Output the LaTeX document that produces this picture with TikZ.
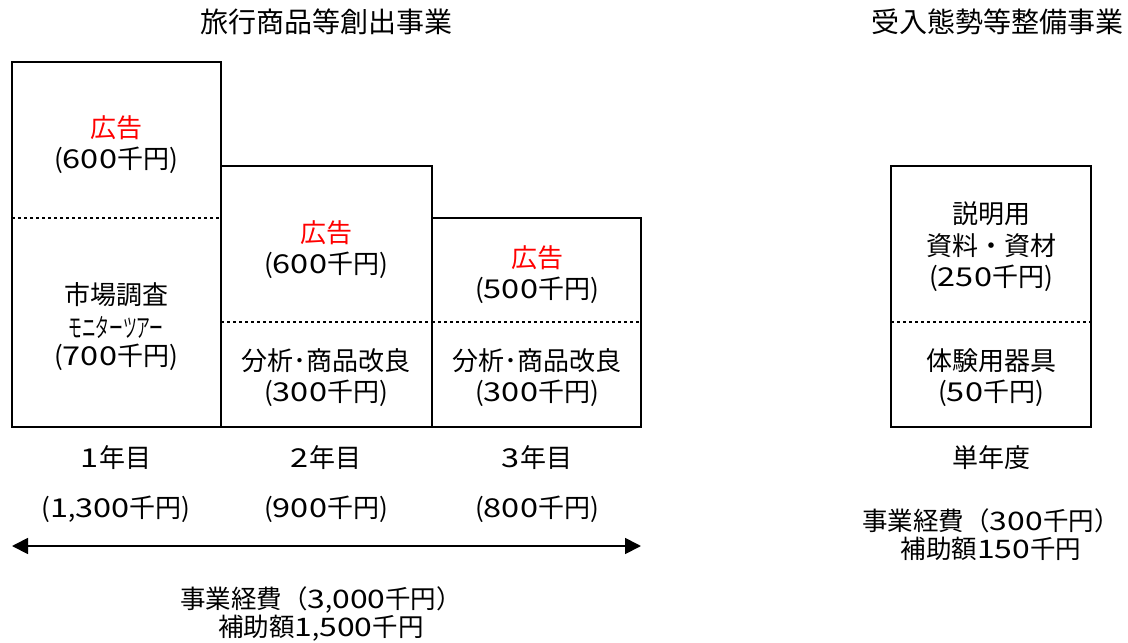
\documentclass[tikz,border=0pt]{standalone}
\usepackage{fontspec}
\setmainfont{Noto Sans CJK JP}
\newfontfamily\digitfont[FakeStretch=1.25]{Noto Sans CJK JP}
\newcommand\amt[1]{{\digitfont #1}}
\usetikzlibrary{arrows.meta,positioning}

\begin{document}
\begin{tikzpicture}[
    x=1pt, y=-1pt,
    box/.style={draw=black, line width=1.8pt},
    divider/.style={draw=black, line width=1.4pt, dash pattern=on 3pt off 3pt},
    label/.style={align=center, font=\fontsize{26}{31.5}\selectfont, inner sep=0pt},
    title/.style={align=center, font=\fontsize{28}{30}\selectfont, inner sep=0pt},
    total/.style={align=center, font=\fontsize{25.5}{28}\selectfont, inner sep=0pt},
    ad/.style={text=red},
    arrow/.style={{Triangle[length=16pt,width=16pt]}-{Triangle[length=16pt,width=16pt]}, line width=1.8pt},
]
\useasboundingbox (0,0) rectangle (1128,643);

% Titles
\node[title] (t1) at (326,22) {旅行商品等創出事業};
\node[title] (t2) at (997,22) {受入態勢等整備事業};

% Boxes
\draw[box] (12,62) rectangle (221,427);
\draw[box] (221,166) rectangle (432,427);
\draw[box] (432,218) rectangle (641,427);
\draw[box] (891,166) rectangle (1091,427);

% Dividers
\draw[divider] (12,218) -- (221,218);
\draw[divider] (221,322) -- (432,322);
\draw[divider] (432,322) -- (641,322);
\draw[divider] (891,322) -- (1091,322);

% Year 1
\node[label, ad] (ad1) at (116,128) {広告};
\node[label] (ad1v) at (116,160) {(\amt{600}千円)};
\node[label] (res) at (116,295) {市場調査};
\node[label, font=\fontsize{26}{28}\selectfont] (tour) at (116,327) {\scalebox{0.53}[1]{モニターツアー}};
\node[label] (resv) at (116,357) {(\amt{700}千円)};

% Year 2
\node[label, ad] (ad2) at (326,233) {広告};
\node[label] (ad2v) at (326,265) {(\amt{600}千円)};
\node[label] (an2) at (326,377.5) {分析･商品改良\\(\amt{300}千円)};

% Year 3
\node[label, ad] (ad3) at (537,258) {広告};
\node[label] (ad3v) at (537,290) {(\amt{500}千円)};
\node[label] (an3) at (537,377.5) {分析･商品改良\\(\amt{300}千円)};

% Reception
\node[label] (doc) at (991,247) {説明用\\資料・資材\\(\amt{250}千円)};
\node[label] (tool) at (991,377.5) {体験用器具\\(\amt{50}千円)};

% Year labels
\node[label] (y1) at (116,458) {\amt{1}年目};
\node[label] (y2) at (326,458) {\amt{2}年目};
\node[label] (y3) at (537,458) {\amt{3}年目};
\node[label] (y0) at (991,458) {単年度};

\node[label] (c1) at (116,509) {(\amt{1},\amt{300}千円)};
\node[label] (c2) at (326,509) {(\amt{900}千円)};
\node[label] (c3) at (537,509) {(\amt{800}千円)};

% Span arrow
\coordinate (s0) at (12,546);
\coordinate (s1) at (641,546);
\draw[arrow] (s0) -- (s1);

% Totals
\node[total] (tot1) at (321,614) {事業経費（\amt{3},\amt{000}千円）\\補助額\amt{1},\amt{500}千円};
\node[total] (tot2) at (991,535) {事業経費（\amt{300}千円）\\補助額\amt{150}千円};

\end{tikzpicture}
\end{document}
